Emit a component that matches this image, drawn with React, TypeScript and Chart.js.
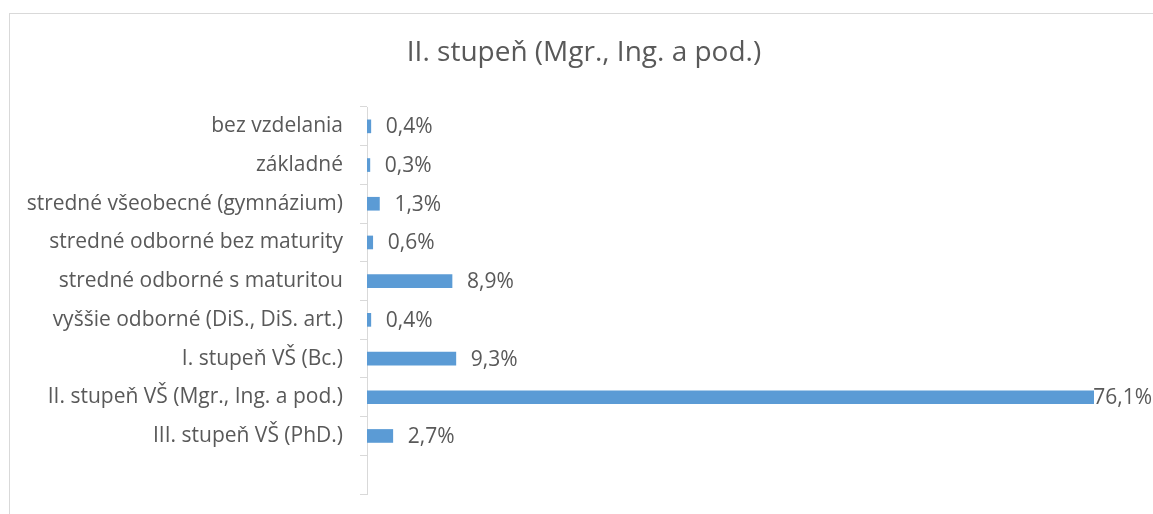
import React, { useEffect, useRef } from "react";
import { Chart, registerables } from "chart.js";

Chart.register(...registerables);

const TITLE = "II. stupeň (Mgr., Ing. a pod.)";
const categories = [
  "bez vzdelania",
  "základné",
  "stredné všeobecné (gymnázium)",
  "stredné odborné bez maturity",
  "stredné odborné s maturitou",
  "vyššie odborné (DiS., DiS. art.)",
  "I. stupeň VŠ (Bc.)",
  "II. stupeň VŠ (Mgr., Ing. a pod.)",
  "III. stupeň VŠ (PhD.)",
  "",
];
const values: (number | null)[] = [0.4, 0.3, 1.3, 0.6, 8.9, 0.4, 9.3, 76.1, 2.7, null];

const FONT = "'Open Sans', sans-serif";
const TEXT = "#595959";
const BAR = "#5B9BD5";
const W = 1153;
const H = 514;

export default function App() {
  const ref = useRef<HTMLCanvasElement | null>(null);
  useEffect(() => {
    if (!ref.current) return;
    const titlePlugin = {
      id: "customTitle",
      afterDraw(chart: any) {
        const ctx = chart.ctx;
        ctx.save();
        ctx.font = `28px ${FONT}`;
        ctx.fillStyle = TEXT;
        ctx.textAlign = "center";
        ctx.textBaseline = "middle";
        ctx.fillText(TITLE, 584, 53);
        ctx.restore();
      },
    };
    const labelPlugin = {
      id: "valueLabels",
      afterDatasetsDraw(chart: any) {
        const ctx = chart.ctx;
        const meta = chart.getDatasetMeta(0);
        ctx.save();
        ctx.font = `21px ${FONT}`;
        ctx.fillStyle = TEXT;
        ctx.textAlign = "left";
        ctx.textBaseline = "middle";
        meta.data.forEach((el: any, i: number) => {
          const v = values[i];
          if (v == null) return;
          const txt = v.toFixed(1).replace(".", ",") + "%";
          const w = ctx.measureText(txt).width;
          let x = el.x + 15;
          if (x + w > chart.width - 1) x = chart.width - 1 - w;
          ctx.fillText(txt, x, el.y + 1);
        });
        ctx.restore();
      },
    };
    const chart = new Chart(ref.current, {
      type: "bar",
      data: {
        labels: categories,
        datasets: [
          {
            data: values,
            backgroundColor: BAR,
            barThickness: 13,
          },
        ],
      },
      options: {
        indexAxis: "y",
        animation: false,
        responsive: false,
        maintainAspectRatio: false,
        layout: { padding: { top: 107, bottom: 20, right: 59, left: 0 } },
        plugins: {
          legend: { display: false },
          title: { display: false },
          tooltip: { enabled: false },
        },
        scales: {
          x: { display: false, min: 0, max: 76.1 },
          y: {
            afterFit(scale: any) {
              scale.width = 367;
              scale.paddingTop = 0;
              scale.paddingBottom = 0;
            },
            grid: {
              drawOnChartArea: false,
              drawTicks: true,
              tickLength: 7,
              color: "#d9d9d9",
              offset: true,
            },
            border: { display: true, color: "#d9d9d9" },
            ticks: {
              color: TEXT,
              font: { family: FONT, size: 21 },
              padding: 17,
              autoSkip: false,
            },
          },
        },
      },
      plugins: [titlePlugin, labelPlugin],
    });
    return () => chart.destroy();
  }, []);
  return (
    <div style={{ position: "fixed", left: 0, top: 0, width: W, height: H, overflow: "hidden", background: "#fff" }}>
      <div
        style={{
          position: "absolute",
          left: 9,
          top: 13,
          width: 3000,
          height: 3000,
          borderTop: "1px solid #d9d9d9",
          borderLeft: "1px solid #d9d9d9",
        }}
      />
      <canvas ref={ref} width={W} height={H} style={{ position: "absolute", left: 0, top: 0 }} />
    </div>
  );
}
